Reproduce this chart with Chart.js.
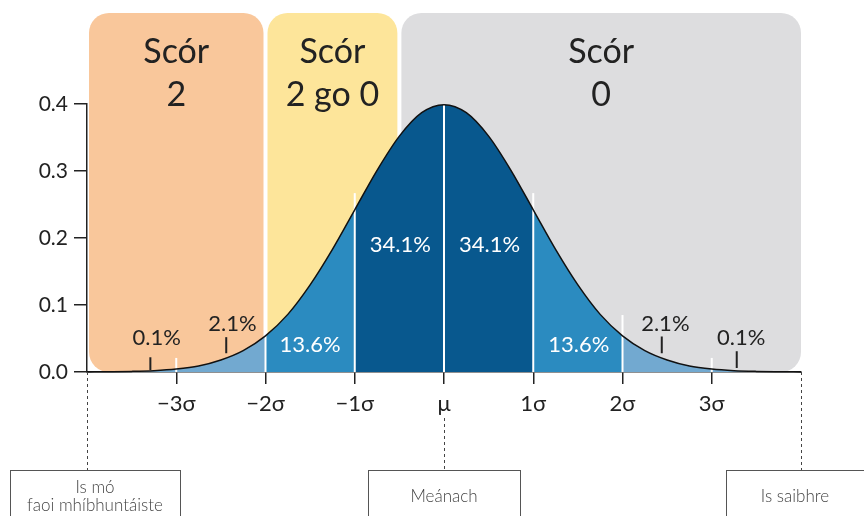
<!DOCTYPE html>
<html>
<head>
<meta charset="utf-8">
<script src="https://cdn.jsdelivr.net/npm/chart.js@4/dist/chart.umd.min.js"></script>
<style>
  html, body { margin: 0; padding: 0; background: #fff; }
  #wrap { width: 864px; height: 516px; position: relative; }
</style>
</head>
<body>
<div id="wrap"><canvas id="myChart"></canvas></div>
<script>
// curve (x in sigma units, y = density)
const sigmaX = [-4, -3.75, -3.5, -3.25, -3, -2.75, -2.5, -2.25, -2, -1.75, -1.5, -1.25, -1, -0.75, -0.5, -0.25,
  0, 0.25, 0.5, 0.75, 1, 1.25, 1.5, 1.75, 2, 2.25, 2.5, 2.75, 3, 3.25, 3.5, 3.75, 4];
const density = [0.0001, 0.0004, 0.0009, 0.002, 0.0044, 0.009, 0.018, 0.032, 0.054, 0.086, 0.130, 0.183, 0.242, 0.301, 0.352, 0.387,
  0.399, 0.387, 0.352, 0.301, 0.242, 0.183, 0.130, 0.086, 0.054, 0.032, 0.018, 0.009, 0.0044, 0.002, 0.0009, 0.0004, 0.0001];

const sigmaTicks = [-3, -2, -1, 0, 1, 2, 3];
const sigmaLabels = ['\u22123\u03c3', '\u22122\u03c3', '\u22121\u03c3', '\u03bc', '1\u03c3', '2\u03c3', '3\u03c3'];
const yTicks = [0, 0.1, 0.2, 0.3, 0.4];

// white dividers at each sigma, with the height they reach
const dividerX = [-3, -2, -1, 0, 1, 2, 3];
const dividerTop = [0.021, 0.085, 0.267, 0.399, 0.267, 0.085, 0.021];

// score zones behind the curve
const zoneFrom = [-4, -2, -0.5];
const zoneTo = [-2, -0.5, 4];
const zoneTitles = [['Sc\u00f3r', '2'], ['Sc\u00f3r', '2 go 0'], ['Sc\u00f3r', '0']];

// percentage labels
const shareText = ['0.1%', '2.1%', '13.6%', '34.1%', '34.1%', '13.6%', '2.1%', '0.1%'];
const shareX = [-3.22, -2.37, -1.50, -0.49, 0.51, 1.51, 2.48, 3.33];
const shareY = [0.051, 0.072, 0.040, 0.190, 0.190, 0.040, 0.072, 0.051];
const shareInside = [false, false, true, true, true, true, false, false];
// little pointer marks under the outside labels
const pointerX = [-3.29, -2.44, 2.44, 3.28];
const pointerLow = [0.003, 0.028, 0.028, 0.006];
const pointerHigh = [0.022, 0.052, 0.053, 0.031];

const zoneColors = ['#f9c79b', '#fde59a', '#dddddf'];
const light = '#72a9d0', mid = '#2b8bc0', dark = '#08588e';

function bandColor(x) {
  if (x < -2) return light;
  if (x < -1) return mid;
  if (x < 1) return dark;
  if (x < 2) return mid;
  return light;
}

const points = sigmaX.map((x, i) => ({x: x, y: density[i]}));

const zonesPlugin = {
  id: 'zones',
  beforeDatasetsDraw(chart) {
    const {ctx, scales: {x, y}} = chart;
    ctx.save();
    const bottom = y.getPixelForValue(0);
    zoneFrom.forEach((f, i) => {
      const l = x.getPixelForValue(f) + 2;
      const r = x.getPixelForValue(zoneTo[i]) - (i == 2 ? 0 : 2);
      ctx.fillStyle = zoneColors[i];
      ctx.beginPath();
      ctx.roundRect(l, 13, r - l, bottom - 13, 20);
      ctx.fill();
      ctx.fillStyle = '#222';
      ctx.font = '34px Lato';
      ctx.textAlign = 'center';
      ctx.textBaseline = 'middle';
      const cx = (l + r) / 2;
      ctx.fillText(zoneTitles[i][0], cx, 52);
      ctx.fillText(zoneTitles[i][1], cx, 95);
    });
    ctx.restore();
  },
  afterDatasetDraw(chart, args) {
    if (args.index !== 1) return;
    const {ctx, scales: {x, y}} = chart;
    ctx.save();
    ctx.strokeStyle = '#fff';
    ctx.lineWidth = 2;
    dividerX.forEach((v, i) => {
      const px = x.getPixelForValue(v);
      ctx.beginPath();
      ctx.moveTo(px, y.getPixelForValue(0));
      ctx.lineTo(px, y.getPixelForValue(dividerTop[i]));
      ctx.stroke();
    });
    ctx.restore();
  },
  afterDraw(chart) {
    const {ctx, scales: {x, y}} = chart;
    ctx.save();
    // percentages
    ctx.font = '22px Lato';
    ctx.textAlign = 'center';
    ctx.textBaseline = 'middle';
    shareText.forEach((t, i) => {
      ctx.fillStyle = shareInside[i] ? '#fff' : '#222';
      ctx.fillText(t, x.getPixelForValue(shareX[i]), y.getPixelForValue(shareY[i]));
    });
    ctx.strokeStyle = '#222';
    ctx.lineWidth = 2;
    pointerX.forEach((v, i) => {
      const px = x.getPixelForValue(v);
      ctx.beginPath();
      ctx.moveTo(px, y.getPixelForValue(pointerLow[i]));
      ctx.lineTo(px, y.getPixelForValue(pointerHigh[i]));
      ctx.stroke();
    });

    // dashed leaders + boxes underneath
    const base = y.getPixelForValue(0);
    const leftX = x.getPixelForValue(-4), midX = x.getPixelForValue(0), rightX = x.getPixelForValue(4);
    ctx.strokeStyle = '#444';
    ctx.lineWidth = 1;
    ctx.setLineDash([3, 3]);
    [[leftX, base], [midX, 418], [rightX, base]].forEach(([px, top]) => {
      ctx.beginPath();
      ctx.moveTo(Math.round(px) + 0.5, top);
      ctx.lineTo(Math.round(px) + 0.5, 470);
      ctx.stroke();
    });
    ctx.setLineDash([]);
    ctx.strokeStyle = '#555';
    ctx.strokeRect(10.5, 470.5, 170, 60);
    ctx.strokeRect(368.5, 470.5, 152, 60);
    ctx.strokeRect(726.5, 470.5, 160, 60);
    ctx.fillStyle = '#444';
    ctx.font = '300 17px Lato';
    ctx.fillText('Is m\u00f3', 95, 488);
    ctx.fillText('faoi mh\u00edbhunt\u00e1iste', 95, 506);
    ctx.fillText('Me\u00e1nach', 444, 497);
    ctx.fillText('Is saibhre', 795, 497);
    ctx.restore();
  }
};

new Chart(document.getElementById('myChart'), {
  type: 'line',
  data: {
    datasets: [
      {
        label: 'curve',
        data: points,
        borderColor: '#111',
        borderWidth: 1.5,
        pointRadius: 0,
        fill: false,
        cubicInterpolationMode: 'monotone',
        clip: false,
        order: 0
      },
      {
        label: 'area',
        data: points,
        borderWidth: 0,
        borderColor: 'rgba(0,0,0,0)',
        pointRadius: 0,
        fill: 'origin',
        backgroundColor: light,
        segment: {
          backgroundColor: c => bandColor(c.p0.parsed.x)
        },
        cubicInterpolationMode: 'monotone',
        clip: false,
        order: 1
      }
    ]
  },
  options: {
    responsive: true,
    maintainAspectRatio: false,
    animation: false,
    layout: { padding: { top: 104, right: 63, bottom: 0, left: 0 } },
    plugins: { legend: { display: false }, tooltip: { enabled: false } },
    scales: {
      x: {
        type: 'linear',
        min: -4,
        max: 4,
        afterBuildTicks: s => { s.ticks = sigmaTicks.map(v => ({value: v})); },
        afterFit: s => { s.height = 144; },
        ticks: {
          autoSkip: false,
          maxRotation: 0,
          padding: 7,
          color: '#222',
          font: { family: 'Lato', size: 22 },
          callback: v => sigmaLabels[sigmaTicks.indexOf(v)]
        },
        grid: { display: true, drawOnChartArea: false, drawTicks: true, tickLength: 12, color: '#222', lineWidth: 1.5 },
        border: { color: '#222', width: 1.5 }
      },
      y: {
        min: 0,
        max: 0.4,
        afterBuildTicks: s => { s.ticks = yTicks.map(v => ({value: v})); },
        afterFit: s => { s.width = 87; },
        ticks: {
          padding: 6,
          color: '#222',
          font: { family: 'Lato', size: 21 },
          callback: v => v.toFixed(1)
        },
        grid: { display: true, drawOnChartArea: false, drawTicks: true, tickLength: 13, color: '#222', lineWidth: 1.5 },
        border: { color: '#222', width: 1.5 }
      }
    }
  },
  plugins: [zonesPlugin]
});
</script>
</body>
</html>
